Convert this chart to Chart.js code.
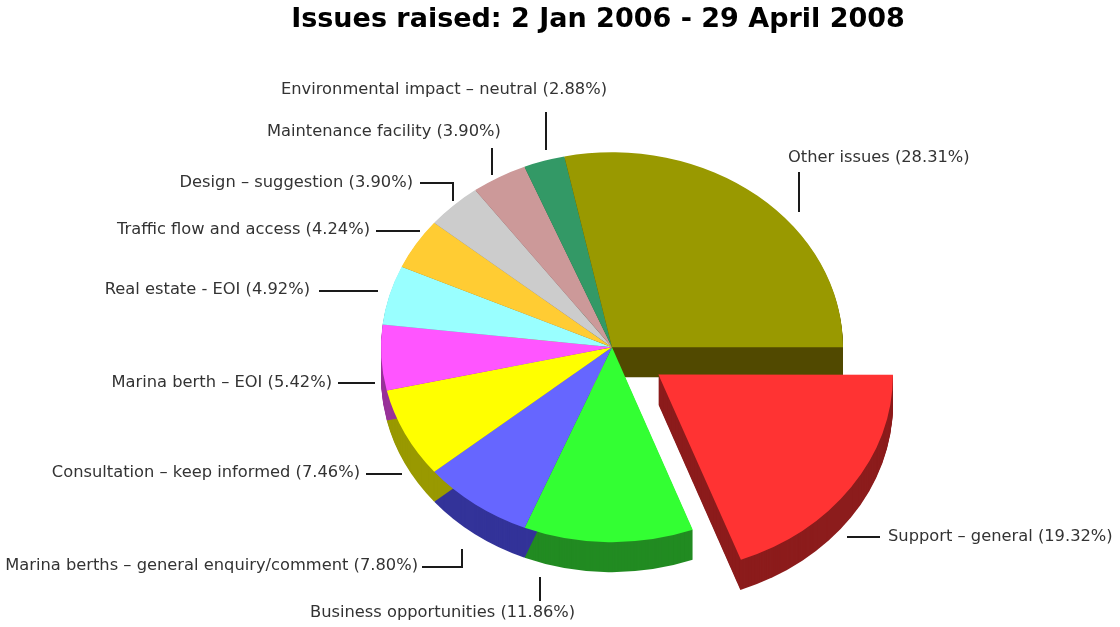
<!DOCTYPE html>
<html>
<head>
<meta charset="utf-8">
<title>Issues raised</title>
<script src="https://cdn.jsdelivr.net/npm/chart.js@4.4.1/dist/chart.umd.min.js"></script>
<style>
  html, body { margin: 0; padding: 0; background: #fff; }
  #wrap { width: 1120px; height: 627px; }
</style>
</head>
<body>
<div id="wrap"><canvas id="issues"></canvas></div>
<script>
// slices run clockwise starting at 3 o'clock
const CATEGORIES = [
    'Support – general',
    'Business opportunities',
    'Marina berths – general enquiry/comment',
    'Consultation – keep informed',
    'Marina berth – EOI',
    'Real estate - EOI',
    'Traffic flow and access',
    'Design – suggestion',
    'Maintenance facility',
    'Environmental impact – neutral',
    'Other issues'
];
const SHARES = [19.32, 11.86, 7.80, 7.46, 5.42, 4.92, 4.24, 3.90, 3.90, 2.88, 28.31];
const TITLE = 'Issues raised: 2 Jan 2006 - 29 April 2008';

const topColors = [
    '#ff3333', '#33ff33', '#6666ff', '#ffff00', '#ff55ff', '#99ffff',
    '#ffcc33', '#cccccc', '#cc9999', '#339966', '#999900'
];
const sideColors = [
    '#8c1c1c', '#228b22', '#333399', '#999900', '#993399', '#559999',
    '#997a1f', '#7a7a7a', '#7a5c5c', '#1f5c3d', '#524a00'
];
// pulled-out slice (v4 arcs move by offset / 4)
const explode = [226, 0, 0, 0, 0, 0, 0, 0, 0, 0, 0];

const TILT = 0.844;   // vertical squash of the pie
const DEPTH = 30;     // thickness in px
const SHIFT_X = 14;   // pie sits a bit right of the title centre

// where each label goes: text anchor + leader polyline
const labelLayout = [
    { x: 888, y: 537, align: 'left',  line: [[847, 537], [880, 537]] },
    { x: 310, y: 613, align: 'left',  line: [[540, 577], [540, 601]] },
    { x: 418, y: 566, align: 'right', line: [[422, 567], [462, 567], [462, 549]] },
    { x: 360, y: 473, align: 'right', line: [[366, 474], [402, 474]] },
    { x: 332, y: 383, align: 'right', line: [[338, 383], [375, 383]] },
    { x: 310, y: 290, align: 'right', line: [[319, 291], [378, 291]] },
    { x: 370, y: 230, align: 'right', line: [[376, 231], [420, 231]] },
    { x: 413, y: 183, align: 'right', line: [[420, 183], [453, 183], [453, 201]] },
    { x: 267, y: 132, align: 'left',  line: [[492, 148], [492, 175]] },
    { x: 281, y: 90,  align: 'left',  line: [[546, 112], [546, 150]] },
    { x: 788, y: 158, align: 'left',  line: [[799, 172], [799, 212]] }
];

const pie3d = {
    id: 'pie3d',
    beforeDatasetsDraw(chart) {
        const ctx = chart.ctx;
        const arcs = chart.getDatasetMeta(0).data;
        const cy = arcs[0].y;
        ctx.save();
        ctx.translate(SHIFT_X, cy);
        ctx.scale(1, TILT);
        ctx.translate(0, -cy);
        // side walls: sweep each wedge downwards, tops get drawn over it
        arcs.forEach((arc, i) => {
            const { x, y, startAngle, endAngle, outerRadius } =
                arc.getProps(['x', 'y', 'startAngle', 'endAngle', 'outerRadius'], true);
            const off = (arc.options.offset || 0) / 4;
            const mid = (startAngle + endAngle) / 2;
            const fix = 1 - Math.sin(Math.min(Math.PI, endAngle - startAngle));
            const r = outerRadius + off * fix;
            const ox = x + Math.cos(mid) * off;
            const oy = y + Math.sin(mid) * off;
            ctx.fillStyle = sideColors[i];
            for (let d = DEPTH; d > 0; d--) {
                const sy = oy + d / TILT;
                ctx.beginPath();
                ctx.moveTo(ox, sy);
                ctx.arc(ox, sy, r, startAngle, endAngle);
                ctx.closePath();
                ctx.fill();
            }
        });
    },
    afterDatasetsDraw(chart) {
        chart.ctx.restore();
    },
    afterDraw(chart) {
        const ctx = chart.ctx;
        ctx.save();
        ctx.font = '16.3px "DejaVu Sans"';
        ctx.fillStyle = '#333';
        ctx.textBaseline = 'middle';
        ctx.strokeStyle = '#1a1a1a';
        ctx.lineWidth = 2;
        CATEGORIES.forEach((name, i) => {
            const lay = labelLayout[i];
            ctx.textAlign = lay.align;
            ctx.fillText(`${name} (${SHARES[i].toFixed(2)}%)`, lay.x, lay.y);
            ctx.beginPath();
            lay.line.forEach((p, j) => j ? ctx.lineTo(p[0], p[1]) : ctx.moveTo(p[0], p[1]));
            ctx.stroke();
        });
        ctx.restore();
    }
};

Chart.defaults.font.family = '"DejaVu Sans", Verdana, sans-serif';

new Chart(document.getElementById('issues'), {
    type: 'pie',
    data: {
        labels: CATEGORIES,
        datasets: [{
            data: SHARES,
            backgroundColor: topColors,
            borderWidth: 0,
            offset: explode,
            radius: 231
        }]
    },
    options: {
        responsive: true,
        maintainAspectRatio: false,
        animation: false,
        events: [],
        rotation: 90,
        layout: { padding: { left: 76, right: 0, top: 0, bottom: 0 } },
        plugins: {
            legend: { display: false },
            tooltip: { enabled: false },
            title: {
                display: true,
                text: TITLE,
                color: '#000',
                font: { size: 27, weight: 'bold' },
                padding: { top: 4, bottom: 31 }
            }
        }
    },
    plugins: [pie3d]
});
</script>
</body>
</html>
